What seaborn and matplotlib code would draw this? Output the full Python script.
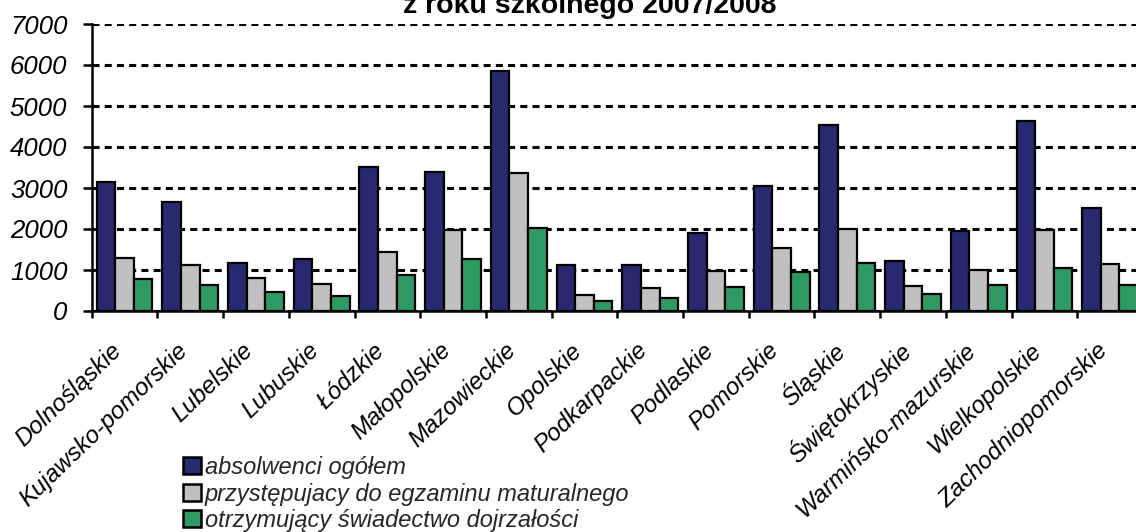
import matplotlib
matplotlib.use("Agg")
import matplotlib.pyplot as plt
import matplotlib.transforms as mtransforms
import seaborn as sns
import pandas as pd
import numpy as np

categories = ["Dolnośląskie", "Kujawsko-pomorskie", "Lubelskie", "Lubuskie", "Łódzkie",
              "Małopolskie", "Mazowieckie", "Opolskie", "Podkarpackie", "Podlaskie",
              "Pomorskie", "Śląskie", "Świętokrzyskie", "Warmińsko-mazurskie",
              "Wielkopolskie", "Zachodniopomorskie"]
series_names = ["absolwenci ogółem",
                "przystępujacy do egzaminu maturalnego",
                "otrzymujący świadectwo dojrzałości"]
absolwenci = [3150, 2660, 1180, 1270, 3520, 3390, 5860, 1130, 1130, 1900, 3060, 4530, 1210, 1950, 4645, 2515]
przystepujacy = [1300, 1110, 800, 650, 1450, 1970, 3360, 390, 560, 985, 1540, 2010, 620, 1010, 1985, 1155]
otrzymujacy = [780, 630, 470, 370, 870, 1270, 2020, 250, 310, 590, 960, 1170, 415, 635, 1060, 640]
title_text = "z roku szkolnego 2007/2008"
y_ticks = [0, 1000, 2000, 3000, 4000, 5000, 6000, 7000]

colors = ["#29296F", "#C0C0C0", "#2E9A63"]

rows = []
for name, vals in zip(series_names, [absolwenci, przystepujacy, otrzymujacy]):
    for c, v in zip(categories, vals):
        rows.append({"woj": c, "seria": name, "wartosc": v})
df = pd.DataFrame(rows)

sns.set_theme(style="white")
plt.rcParams["font.family"] = ["Liberation Sans", "DejaVu Sans"]

W, H = 1136, 532
fig = plt.figure(figsize=(W / 100, H / 100), dpi=100)
left, right, top, bottom = 91.7, 1143, 24, 311
ax = fig.add_axes([left / W, 1 - bottom / H, (right - left) / W, (bottom - top) / H])

sns.barplot(data=df, x="woj", y="wartosc", hue="seria", order=categories,
            hue_order=series_names, palette=colors, width=0.85, gap=0,
            edgecolor="black", linewidth=1.6, saturation=1, ax=ax, legend=True, zorder=3)

ax.set_ylim(0, 7000)
ax.set_xlim(-0.5, len(categories) - 0.5)
ax.set_yticks(y_ticks)
ax.set_yticklabels([str(t) for t in y_ticks], fontsize=18.5, style="italic")
ax.set_xlabel("")
ax.set_ylabel("")

# gridlines
ax.yaxis.grid(True, color="black", linestyle=(0, (2.3, 1.7)), linewidth=2.2, zorder=1)
ax.set_axisbelow(True)

for s in ["top", "right"]:
    ax.spines[s].set_visible(False)
for s in ["left", "bottom"]:
    ax.spines[s].set_color("black")
    ax.spines[s].set_linewidth(1.8)

ax.tick_params(axis="y", which="major", direction="out", length=6.5, width=1.8,
               color="black", pad=11, left=True, labelcolor="black")

# x ticks: labels at centers, tick marks at category boundaries
ax.set_xticks(range(len(categories)))
ax.set_xticklabels(categories, rotation=44, ha="right", va="center", rotation_mode="anchor",
                   fontsize=17.5, style="italic", color="black")
ax.tick_params(axis="x", which="major", length=0, pad=26)
offset = mtransforms.ScaledTranslation(-6 / 100, 0, fig.dpi_scale_trans)
for lbl in ax.get_xticklabels():
    lbl.set_transform(lbl.get_transform() + offset)
ax.set_xticks(np.arange(-0.5, len(categories), 1.0), minor=True)
ax.tick_params(axis="x", which="minor", direction="out", length=5, width=1.8,
               color="black", bottom=True)

# legend
handles, labels = ax.get_legend_handles_labels()
ax.legend_.remove()
leg = fig.legend(handles, labels, loc="upper left",
                 bbox_to_anchor=(183 / W, 1 - 456 / H), frameon=False,
                 prop={"family": ["Liberation Sans", "DejaVu Sans"], "style": "italic", "size": 17},
                 handlelength=0.78, handleheight=0.72, handletextpad=0.15,
                 labelspacing=0.15, borderpad=0, borderaxespad=0)
for h in leg.legend_handles:
    h.set_edgecolor("black")
    h.set_linewidth(1.8)

fig.text(590 / W, 1 - 13 / H, title_text, ha="center", va="baseline",
         fontsize=20.5, fontweight="bold", color="black")

fig.savefig("out.png", dpi=100)
